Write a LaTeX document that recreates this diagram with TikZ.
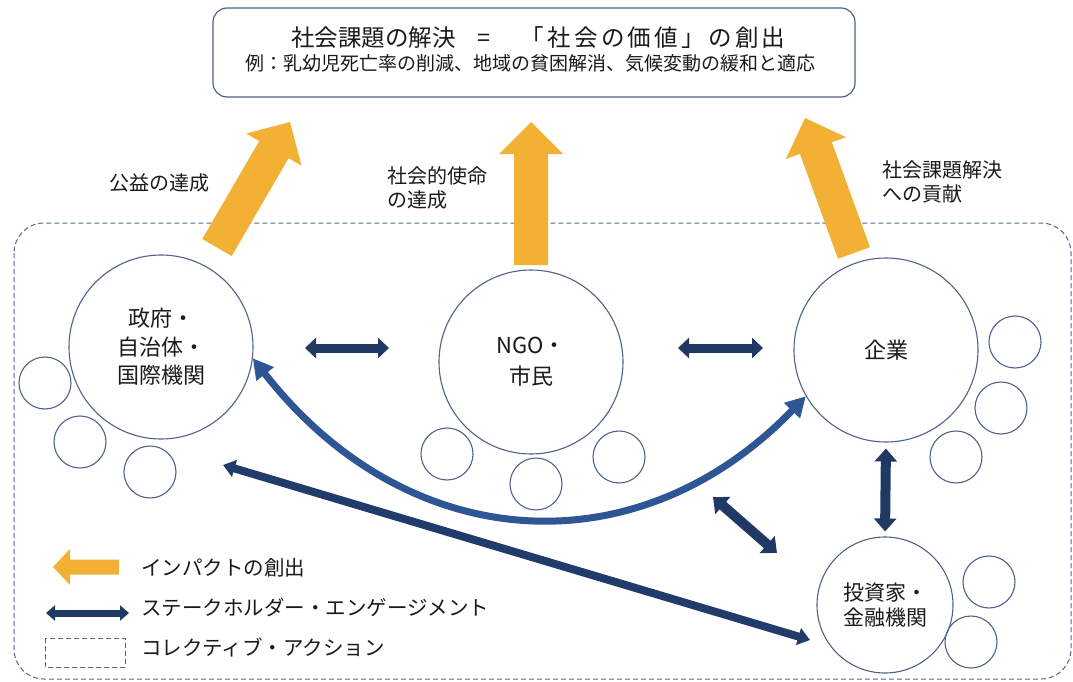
\documentclass[tikz,border=0pt]{standalone}
\usepackage{fontspec}
\setmainfont{Noto Sans CJK JP}
\usetikzlibrary{calc,arrows.meta}
\definecolor{orangeF}{HTML}{F2B134}
\definecolor{circ}{HTML}{4F6289}
\definecolor{dashc}{HTML}{51668E}
\definecolor{navy}{HTML}{1F3864}
\definecolor{bluec}{HTML}{2E5694}
\definecolor{txt}{HTML}{1A1A1A}
\newcommand\fatarrow[5]{%
  \coordinate (hb) at ($(#2)!#5!(#1)$);
  \fill[orangeF] ($(#1)!#3!90:(#2)$) -- ($(hb)!#3!90:(#2)$) -- ($(hb)!#4!90:(#2)$) -- (#2)
    -- ($(hb)!#4!-90:(#2)$) -- ($(hb)!#3!-90:(#2)$) -- ($(#1)!#3!-90:(#2)$) -- cycle;}
\begin{document}
\begin{tikzpicture}[x=1pt,y=-1pt,
  bigc/.style={circle, draw=circ, line width=1.1pt, minimum size=184pt, inner sep=0pt,
    font=\fontsize{22}{28.5}\selectfont, align=center, text=txt},
  smallc/.style={circle, draw=circ, line width=1.1pt, minimum size=52pt, inner sep=0pt},
  lbl/.style={inner sep=0pt, text=txt, font=\fontsize{20}{24}\selectfont, align=left},
  eng/.style={navy, line width=9pt, {Triangle[length=11pt,width=20pt]}-{Triangle[length=11pt,width=20pt]}},
  engd/.style={navy, line width=10pt, {Triangle[length=13pt,width=22pt]}-{Triangle[length=13pt,width=22pt]}},
  engc/.style={bluec, line width=7pt, {Triangle[length=20pt,width=21pt]}-{Triangle[length=20pt,width=21pt]}},
  engl/.style={navy!85!bluec, line width=8pt, {Triangle[length=12pt,width=17pt]}-{Triangle[length=12pt,width=17pt]}},
  engs/.style={navy, line width=7pt, {Triangle[length=9pt,width=15pt]}-{Triangle[length=9pt,width=15pt]}},
  dashbox/.style={draw=dashc, line width=1pt, dash pattern=on 5pt off 3pt}
]
\useasboundingbox (0,0) rectangle (1073,682);
\fill[white] (0,0) rectangle (1073,682);

% collective action frame
\draw[dashbox, rounded corners=30pt] (14,223) rectangle (1071,679);

% goal box
\node[draw=circ, line width=1.2pt, rounded corners=14pt, minimum width=642pt, minimum height=89pt, inner sep=0pt] (goal) at (534,52.5) {};
\node[anchor=base west, inner sep=0pt, text=txt, font=\fontsize{23.5}{28}\selectfont] (t1) at (291,47)
  {社会課題の解決\hspace{22pt}=\hspace{30pt}{\addfontfeature{LetterSpace=14}「社会の価値」の創出}};
\node[anchor=base west, inner sep=0pt, text=txt, font=\fontsize{19}{23}\selectfont] (t2) at (245,71)
  {例：乳幼児死亡率の削減、地域の貧困解消、気候変動の緩和と適応};

% impact arrows
\coordinate (o1t) at (217,247.5); \coordinate (o1p) at (290,122);
\coordinate (o2t) at (531,265);   \coordinate (o2p) at (531,122);
\coordinate (o3t) at (854,253);   \coordinate (o3p) at (805,118);
\fatarrow{o1t}{o1p}{17pt}{32pt}{32pt}
\fatarrow{o2t}{o2p}{17pt}{32pt}{32pt}
\fatarrow{o3t}{o3p}{17pt}{32pt}{32pt}

\node[lbl, anchor=center] (l1) at (159,183) {公益の達成};
\node[lbl, anchor=west] (l2) at (387,188) {社会的使命\\の達成};
\node[lbl, anchor=west] (l3) at (882,181.5) {社会課題解決\\への貢献};

% actors
\node[bigc] (gov) at (161,347) {政府・\\自治体・\\国際機関};
\node[bigc, font=\fontsize{22}{31}\selectfont] (ngo) at (531,362) {NGO・\\市民};
\node[bigc] (comp) at (886,350) {企業};
\node[bigc, minimum size=136pt, font=\fontsize{21}{25}\selectfont] (inv) at (885,605) {投資家・\\金融機関};

% small circles
\node[smallc] (g1) at (45,383) {};
\node[smallc] (g2) at (80,442) {};
\node[smallc] (g3) at (150,472) {};
\node[smallc] (n1) at (447,454) {};
\node[smallc] (n2) at (536,484) {};
\node[smallc] (n3) at (619,457) {};
\node[smallc] (c1) at (1015,342) {};
\node[smallc] (c2) at (1001,408) {};
\node[smallc] (c3) at (956,457) {};
\node[smallc] (i1) at (989,582) {};
\node[smallc] (i2) at (971,642) {};

% engagement arrows
\coordinate (h1a) at (305,348); \coordinate (h1b) at (389,348);
\coordinate (h2a) at (678,348); \coordinate (h2b) at (763,348);
\draw[eng] (h1a) -- (h1b);
\draw[eng] (h2a) -- (h2b);
\draw[engd, shorten <=6pt, shorten >=5pt] (comp.south) -- (inv.north);
\coordinate (da) at (713,497); \coordinate (db) at (777,553);
\draw[engd] (da) -- (db);
\draw[engc] (gov.-7) .. controls (407,556) and (637,571) .. (comp.210);
\coordinate (la) at (223,465); \coordinate (lb) at (810,640);
\draw[engl] (la) -- (lb);

% legend
\coordinate (lgt) at (119,567); \coordinate (lgp) at (53,567);
\fatarrow{lgt}{lgp}{7.5pt}{18pt}{17pt}
\coordinate (lba) at (46,613); \coordinate (lbb) at (129,613);
\draw[engs] (lba) -- (lbb);
\draw[dashbox] (45,638) rectangle (125,667);
\node[lbl, anchor=west, font=\fontsize{20.5}{24}\selectfont] (lt1) at (141,568) {インパクトの創出};
\node[lbl, anchor=west, font=\fontsize{20.5}{24}\selectfont] (lt2) at (141,608) {ステークホルダー・エンゲージメント};
\node[lbl, anchor=west, font=\fontsize{20.5}{24}\selectfont] (lt3) at (141,648) {コレクティブ・アクション};
\end{tikzpicture}
\end{document}
